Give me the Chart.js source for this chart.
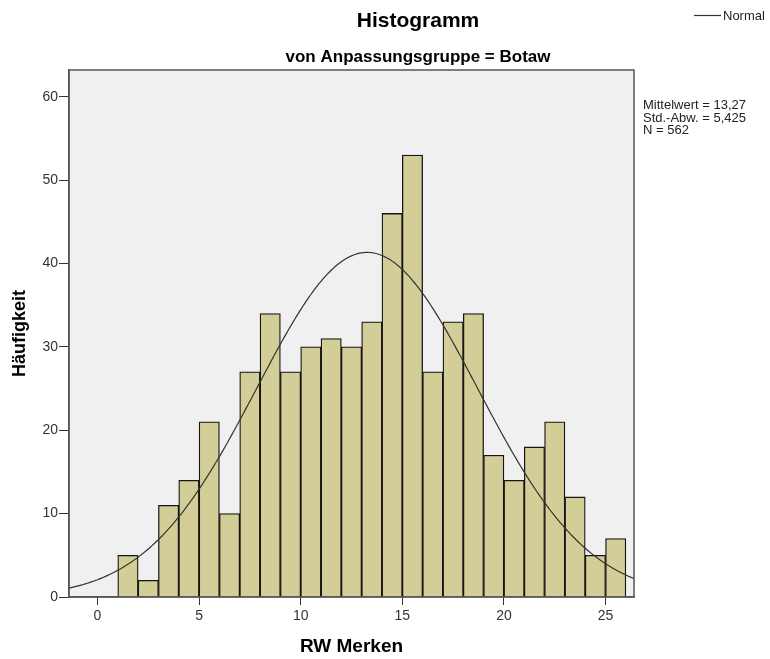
<!DOCTYPE html>
<html>
<head>
<meta charset="utf-8">
<script src="https://cdn.jsdelivr.net/npm/chart.js@4.4.0/dist/chart.umd.min.js"></script>
<style>
  body { margin: 0; background: #fff; }
  #wrap { width: 770px; height: 659px; }
</style>
</head>
<body>
<div id="wrap"><canvas id="histChart" width="770" height="659"></canvas></div>
<script>
// RW Merken, Anpassungsgruppe = Botaw: counts per bin of width 1 (bins 1-2 ... 25-26)
const binStarts = [1, 2, 3, 4, 5, 6, 7, 8, 9, 10, 11, 12, 13, 14, 15, 16, 17, 18, 19, 20, 21, 22, 23, 24, 25];
const counts = [5, 2, 11, 14, 21, 10, 27, 34, 27, 30, 31, 30, 33, 46, 53, 27, 33, 34, 17, 14, 18, 21, 12, 5, 7];
const xTickValues = [0, 5, 10, 15, 20, 25];
const yTickValues = [0, 10, 20, 30, 40, 50, 60];
const statLines = ['Mittelwert = 13,27', 'Std.-Abw. = 5,425', 'N = 562'];

// parameters of the fitted normal curve (same as the stats box)
const mean = 13.27;
const stdDev = 5.425;
const nCases = 562;
const binWidth = 1;

const xMin = -1.4, xMax = 26.4;
const yMin = 0, yMax = 63.2;

const FONT = '"Liberation Sans", Arial, sans-serif';
Chart.defaults.font.family = FONT;

const barData = binStarts.map((b, i) => ({ x: b + binWidth / 2, y: counts[i] }));

// expected frequency under the normal distribution
function normalCount(x) {
  const z = (x - mean) / stdDev;
  return nCases * binWidth * Math.exp(-0.5 * z * z) / (stdDev * Math.sqrt(2 * Math.PI));
}
const curveData = [];
for (let x = xMin; x <= xMax + 1e-9; x += 0.1) {
  curveData.push({ x: x, y: normalCount(x) });
}

const plotFrame = {
  id: 'plotFrame',
  beforeDraw(chart) {
    const { ctx, chartArea: a } = chart;
    ctx.save();
    ctx.fillStyle = '#f0f0f0';
    ctx.fillRect(a.left, a.top, a.right - a.left, a.bottom - a.top);
    ctx.restore();
  },
  afterDraw(chart) {
    const { ctx, chartArea: a } = chart;
    ctx.save();
    ctx.strokeStyle = '#555';
    ctx.lineWidth = 1.5;
    ctx.strokeRect(a.left, a.top, a.right - a.left, a.bottom - a.top);

    ctx.fillStyle = '#000';
    ctx.textAlign = 'center';
    ctx.textBaseline = 'alphabetic';
    ctx.font = 'bold 21px ' + FONT;
    ctx.fillText('Histogramm', 418, 27);
    ctx.font = 'bold 17px ' + FONT;
    ctx.fillText('von Anpassungsgruppe = Botaw', 418, 62);

    // legend entry for the curve
    ctx.strokeStyle = '#333';
    ctx.lineWidth = 1.2;
    ctx.beginPath();
    ctx.moveTo(694, 15.5);
    ctx.lineTo(721, 15.5);
    ctx.stroke();
    ctx.textAlign = 'left';
    ctx.font = '13px ' + FONT;
    ctx.fillStyle = '#222';
    ctx.fillText('Normal', 723, 20);

    statLines.forEach((t, i) => ctx.fillText(t, 643, 109 + i * 12.5));
    ctx.restore();
  }
};

new Chart(document.getElementById('histChart'), {
  type: 'bar',
  data: {
    datasets: [
      {
        type: 'line',
        data: curveData,
        borderColor: '#333',
        borderWidth: 1.2,
        pointRadius: 0,
        tension: 0,
        order: 0
      },
      {
        data: barData,
        backgroundColor: '#d3ce97',
        borderColor: '#151515',
        borderWidth: 1.3,
        barPercentage: 1,
        categoryPercentage: 1,
        order: 1
      }
    ]
  },
  plugins: [plotFrame],
  options: {
    responsive: false,
    animation: false,
    layout: { padding: { left: 0, top: 70, right: 136, bottom: 0 } },
    plugins: { legend: { display: false }, tooltip: { enabled: false } },
    scales: {
      x: {
        type: 'linear',
        min: xMin,
        max: xMax,
        offset: false,
        afterBuildTicks: axis => { axis.ticks = xTickValues.map(v => ({ value: v })); },
        afterFit: axis => { axis.height = 62; },
        grid: { offset: false, drawOnChartArea: false, drawTicks: true, tickLength: 8, color: '#333' },
        border: { display: true, color: '#555', width: 1.5 },
        ticks: { color: '#333', font: { size: 14 }, padding: 3, maxRotation: 0 },
        title: {
          display: true,
          text: 'RW Merken',
          color: '#000',
          font: { size: 19, weight: 'bold' },
          padding: { top: 4, bottom: 1 }
        }
      },
      y: {
        min: yMin,
        max: yMax,
        afterBuildTicks: axis => { axis.ticks = yTickValues.map(v => ({ value: v })); },
        afterFit: axis => { axis.width = 69; },
        grid: { drawOnChartArea: false, drawTicks: true, tickLength: 10, color: '#333' },
        border: { display: true, color: '#555', width: 1.5 },
        ticks: { color: '#333', font: { size: 14 }, padding: 1 },
        title: {
          display: true,
          text: 'Häufigkeit',
          color: '#000',
          font: { size: 18, weight: 'bold' },
          padding: { top: 9, bottom: 0 }
        }
      }
    }
  }
});
</script>
</body>
</html>
